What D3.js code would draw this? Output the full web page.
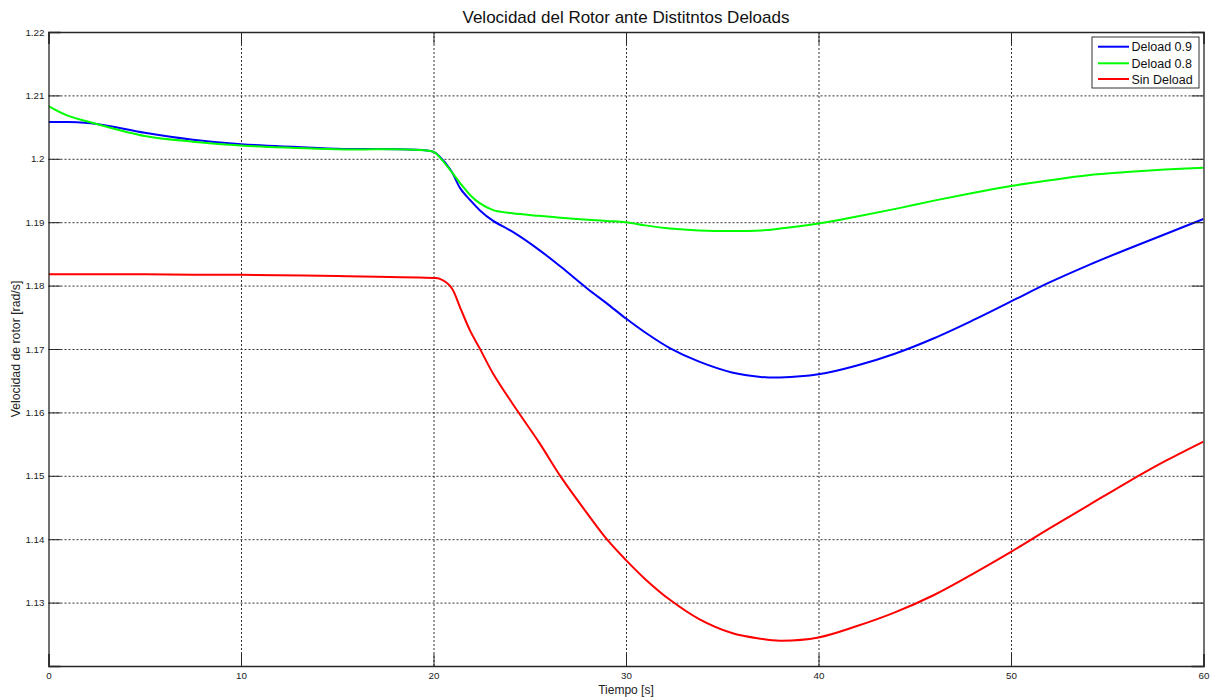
<!DOCTYPE html>
<html>
<head>
<meta charset="utf-8">
<script src="https://cdn.jsdelivr.net/npm/d3@7"></script>
<style>
  html, body { margin: 0; padding: 0; background: #fff; }
  svg { display: block; font-family: "Liberation Sans", Arial, sans-serif; }
</style>
</head>
<body>
<svg id="chart" width="1212" height="700"></svg>
<script>
// Time samples [s]
const time = [0, 1, 2.5, 5, 7.5, 10, 15, 20, 20.3, 20.9, 21.4, 21.9, 22.4, 23.1, 24.1, 25.5,
  26.6, 28, 29, 30, 31, 32.3, 33.8, 35.5, 37, 38, 40, 42, 44, 46, 48, 50, 52, 54, 56, 58, 60];

// Rotor speed [rad/s] for each deload setting
const deload09 = [1.2058, 1.2058, 1.2055, 1.2041, 1.2030, 1.2023, 1.2016, 1.2011, 1.2004, 1.1982,
  1.1953, 1.1935, 1.1919, 1.1902, 1.1885, 1.1856, 1.1830, 1.1795, 1.1772, 1.1748, 1.1726,
  1.1701, 1.1680, 1.1663, 1.1656, 1.1655, 1.1660, 1.1674, 1.1693, 1.1717, 1.1745, 1.1775,
  1.1805, 1.1832, 1.1857, 1.1881, 1.1905];
const deload08 = [1.2083, 1.2068, 1.2055, 1.2036, 1.2027, 1.2021, 1.2015, 1.2011, 1.2003, 1.1981,
  1.1961, 1.1943, 1.1930, 1.1919, 1.1914, 1.1910, 1.1907, 1.1904, 1.1902, 1.1900, 1.1895,
  1.1890, 1.1887, 1.1886, 1.1887, 1.1890, 1.1898, 1.1909, 1.1921, 1.1934, 1.1946, 1.1957,
  1.1966, 1.1974, 1.1979, 1.1983, 1.1986];
const sinDeload = [1.1818, 1.1818, 1.1818, 1.1818, 1.1817, 1.1817, 1.1815, 1.1812, 1.1811, 1.1798,
  1.1764, 1.1729, 1.1701, 1.1661, 1.1614, 1.1552, 1.1499, 1.1440, 1.1400, 1.1367, 1.1337,
  1.1304, 1.1274, 1.1252, 1.1243, 1.1240, 1.1245, 1.1263, 1.1285, 1.1312, 1.1345, 1.1380,
  1.1417, 1.1453, 1.1489, 1.1523, 1.1554];

const seriesNames = ["Deload 0.9", "Deload 0.8", "Sin Deload"];
const seriesColors = ["#0000ff", "#00ff00", "#ff0000"];
const seriesValues = [deload09, deload08, sinDeload];

const xTicks = [0, 10, 20, 30, 40, 50, 60];
const yTicks = [1.13, 1.14, 1.15, 1.16, 1.17, 1.18, 1.19, 1.2, 1.21, 1.22];

const titleText = "Velocidad del Rotor ante Distitntos Deloads";
const xLabelText = "Tiempo [s]";
const yLabelText = "Velocidad de rotor [rad/s]";

// Layout
const plot = { left: 48.5, right: 1203.5, top: 32, bottom: 666 };
const W = plot.right - plot.left, H = plot.bottom - plot.top;

const svg = d3.select("#chart");
const x = d3.scaleLinear().domain([0, 60]).range([plot.left, plot.right]);
const y = d3.scaleLinear().domain([1.12, 1.22]).range([plot.bottom, plot.top]);

// Dotted grid
const grid = svg.append("g").attr("class", "grid");
grid.append("g")
  .attr("transform", `translate(0,${plot.bottom})`)
  .call(d3.axisBottom(x).tickValues(xTicks.slice(1, -1)).tickSize(-H).tickFormat(""));
grid.append("g")
  .attr("transform", `translate(${plot.left},0)`)
  .call(d3.axisLeft(y).tickValues(yTicks.slice(0, -1)).tickSize(-W).tickFormat(""));
grid.selectAll(".domain").remove();
grid.selectAll("line")
  .attr("stroke", "#333")
  .attr("stroke-width", 1)
  .attr("stroke-dasharray", "2,2");

// Data lines
const line = d3.line()
  .x((d, i) => x(time[i]))
  .y(d => y(d))
  .curve(d3.curveCatmullRom.alpha(0.5));

svg.append("clipPath").attr("id", "plotclip")
  .append("rect").attr("x", plot.left).attr("y", plot.top).attr("width", W).attr("height", H);

svg.append("g").attr("clip-path", "url(#plotclip)")
  .selectAll("path")
  .data(seriesValues)
  .join("path")
  .attr("fill", "none")
  .attr("stroke", (d, i) => seriesColors[i])
  .attr("stroke-width", 2)
  .attr("stroke-linejoin", "round")
  .attr("d", line);

// Axes with inward ticks, box on all four sides
const fmtY = d3.format(".2~f");
const axisColor = "#262626";
const tickLen = 12;

const axB = svg.append("g").attr("transform", `translate(0,${plot.bottom})`)
  .call(d3.axisBottom(x).tickValues(xTicks).tickSize(-tickLen).tickPadding(6).tickFormat(d3.format("d")));
const axL = svg.append("g").attr("transform", `translate(${plot.left},0)`)
  .call(d3.axisLeft(y).tickValues(yTicks).tickSize(-tickLen).tickPadding(4).tickFormat(fmtY));
const axT = svg.append("g").attr("transform", `translate(0,${plot.top})`)
  .call(d3.axisTop(x).tickValues(xTicks).tickSize(-tickLen).tickFormat(""));
const axR = svg.append("g").attr("transform", `translate(${plot.right},0)`)
  .call(d3.axisRight(y).tickValues(yTicks).tickSize(-tickLen).tickFormat(""));

[axB, axL, axT, axR].forEach(g => {
  g.select(".domain").attr("stroke", axisColor).attr("stroke-width", 1.3);
  g.selectAll(".tick line").attr("stroke", axisColor).attr("stroke-width", 1);
  g.selectAll(".tick text").attr("fill", "#222").style("font-size", "9.8px")
    .style("font-family", "'Liberation Sans', Arial, sans-serif");
});

// Title and axis labels
svg.append("text")
  .attr("x", (plot.left + plot.right) / 2).attr("y", 22.5)
  .attr("text-anchor", "middle")
  .style("font-size", "17px").attr("fill", "#111")
  .text(titleText);

svg.append("text")
  .attr("x", (plot.left + plot.right) / 2).attr("y", 693.5)
  .attr("text-anchor", "middle")
  .style("font-size", "12px").attr("fill", "#222")
  .text(xLabelText);

svg.append("text")
  .attr("transform", `translate(19.5,${(plot.top + plot.bottom) / 2}) rotate(-90)`)
  .attr("text-anchor", "middle")
  .style("font-size", "12.3px").attr("fill", "#222")
  .text(yLabelText);

// Legend
const lg = svg.append("g").attr("transform", "translate(1092,37)");
lg.append("rect")
  .attr("width", 107).attr("height", 51)
  .attr("fill", "#fff").attr("stroke", "#333").attr("stroke-width", 1);
const rowY = [9.7, 26.3, 42];
seriesNames.forEach((name, i) => {
  lg.append("line")
    .attr("x1", 6).attr("x2", 37)
    .attr("y1", rowY[i]).attr("y2", rowY[i])
    .attr("stroke", seriesColors[i]).attr("stroke-width", 2);
  lg.append("text")
    .attr("x", 39.5).attr("y", rowY[i]).attr("dy", "0.36em")
    .style("font-size", "12.5px").attr("fill", "#111")
    .text(name);
});
</script>
</body>
</html>
